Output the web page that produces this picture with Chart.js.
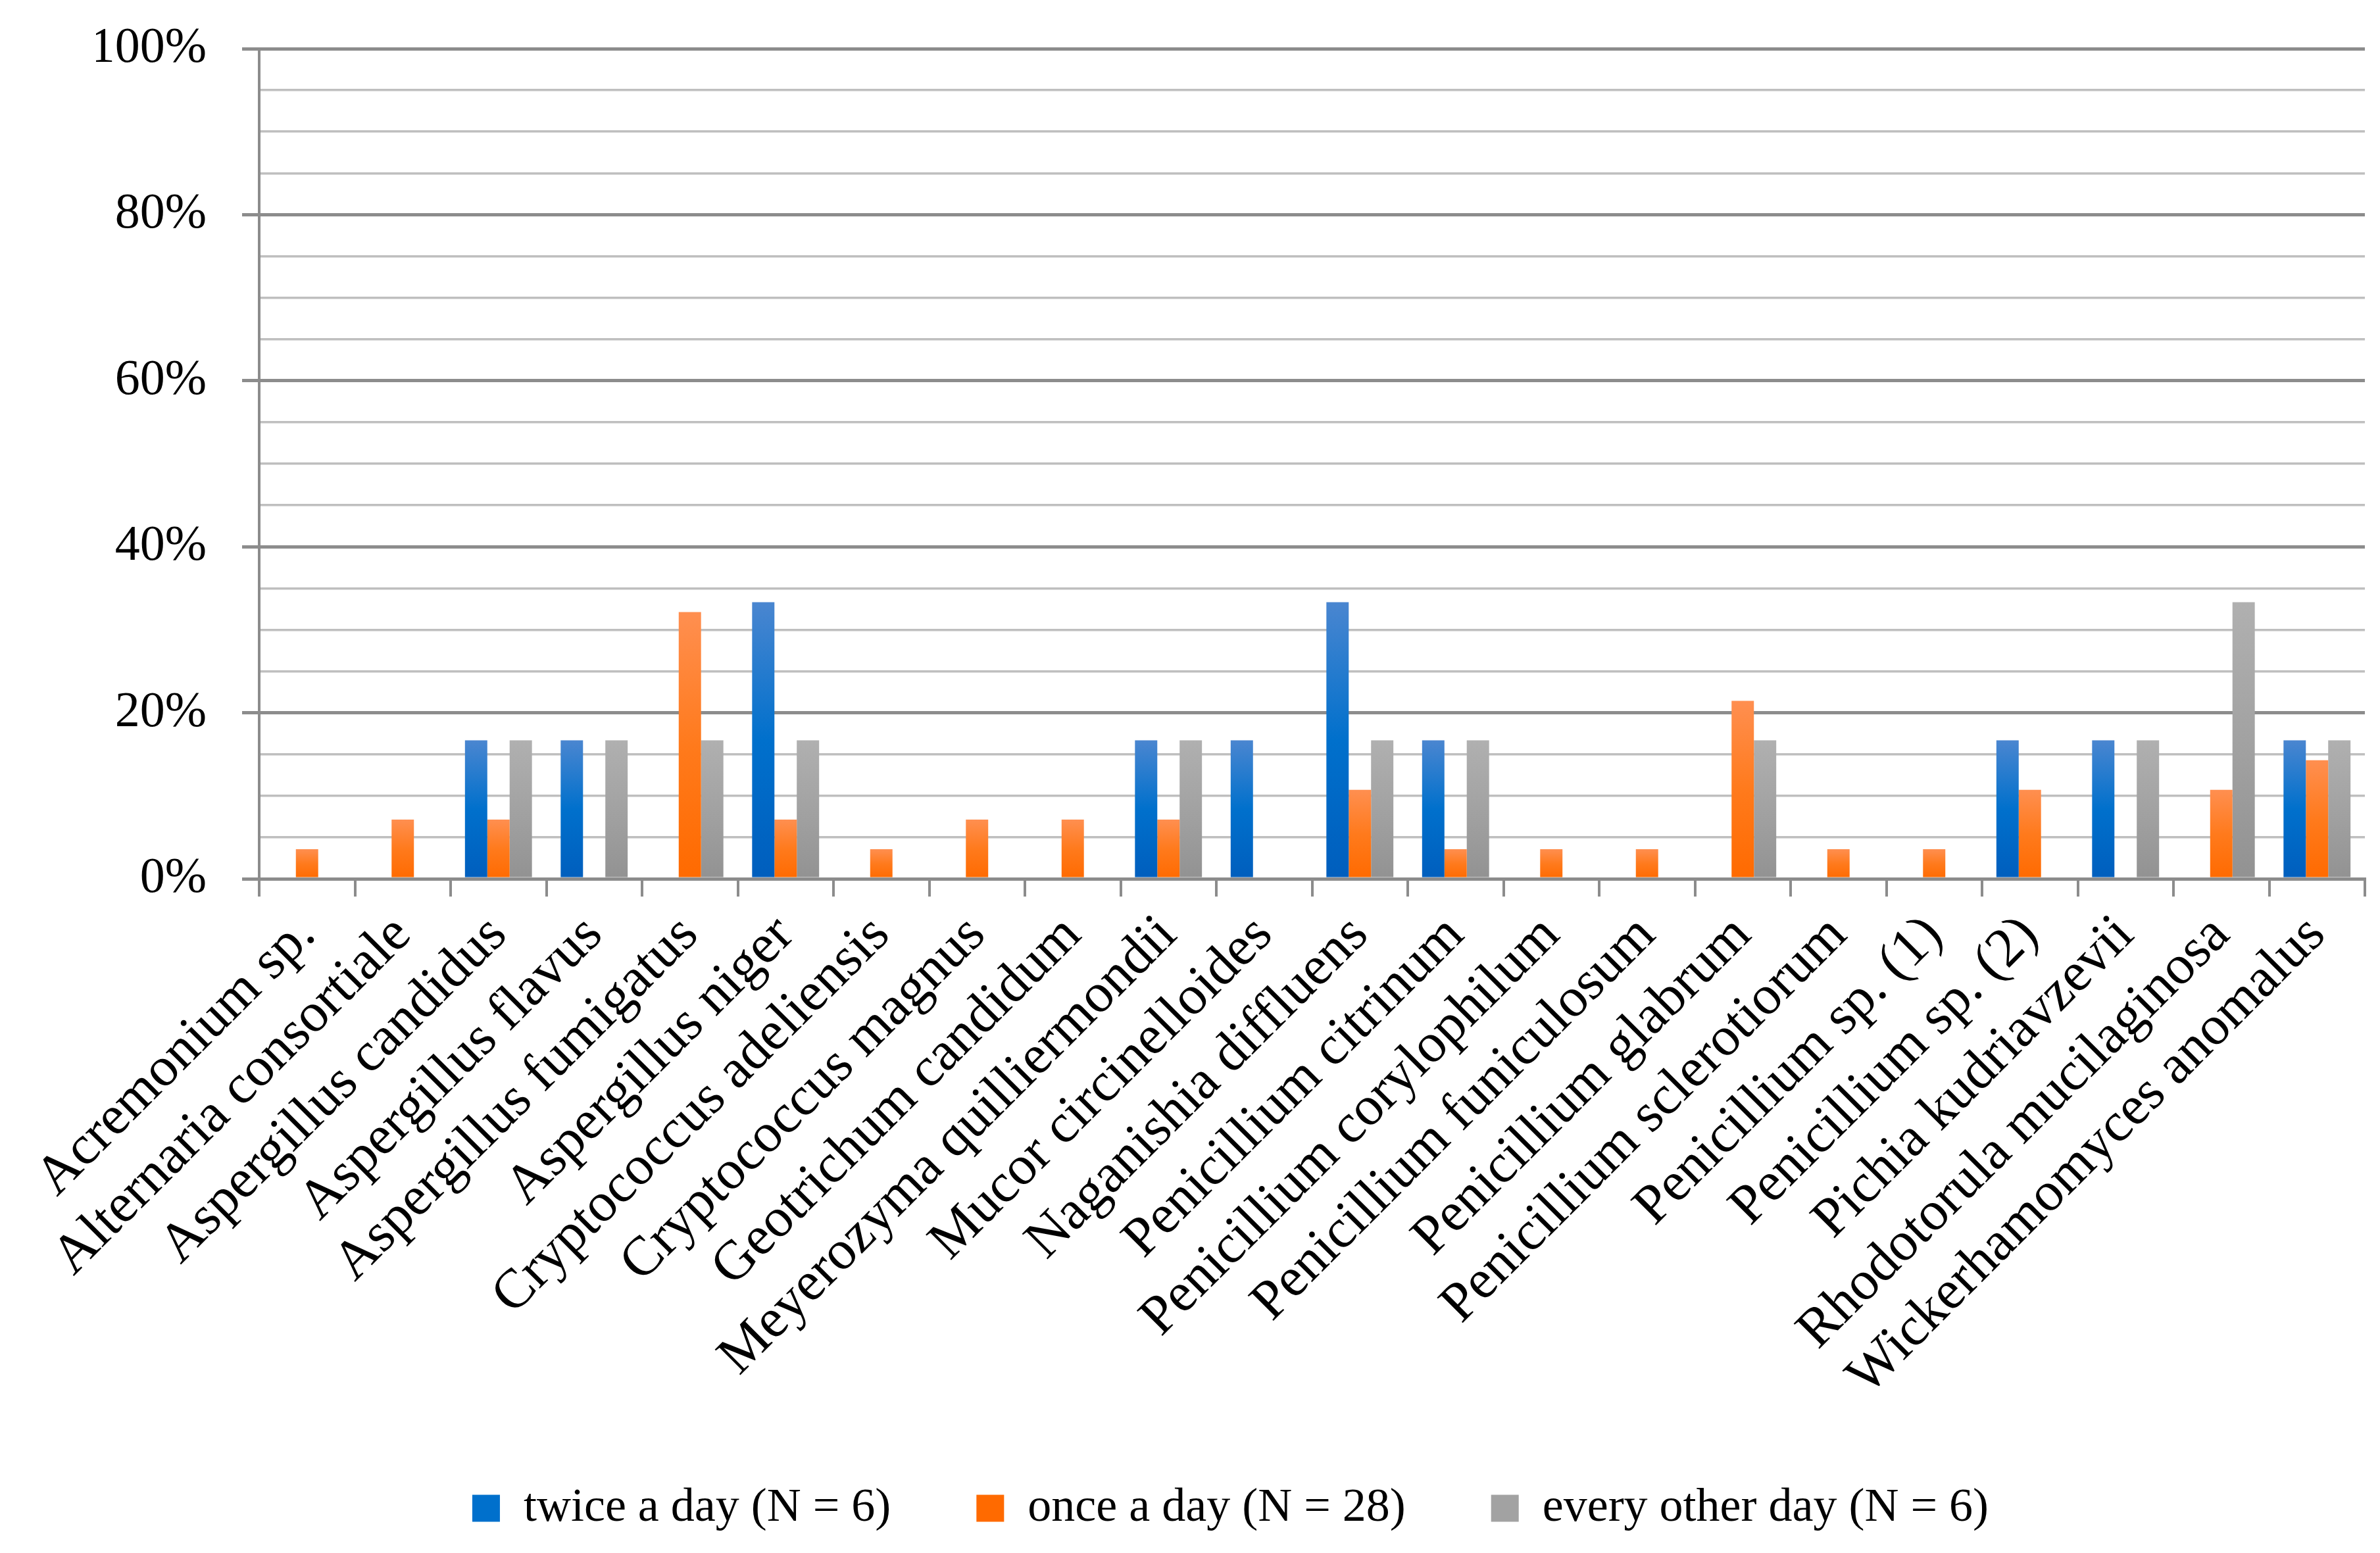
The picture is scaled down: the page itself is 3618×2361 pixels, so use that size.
<!DOCTYPE html>
<html>
<head>
<meta charset="utf-8">
<script src="https://cdn.jsdelivr.net/npm/chart.js@4/dist/chart.umd.min.js"></script>
<style>
  html, body { margin: 0; padding: 0; background: #fff; }
  #wrap { width: 3618px; height: 2361px; position: relative; }
</style>
</head>
<body>
<div id="wrap"><canvas id="fungiChart"></canvas></div>
<script>
// ---- data (percent of samples per frequency group) ----
var species = [
  'Acremonium sp.', 'Alternaria consortiale', 'Aspergillus candidus', 'Aspergillus flavus',
  'Aspergillus fumigatus', 'Aspergillus niger', 'Cryptococcus adeliensis', 'Cryptococcus magnus',
  'Geotrichum candidum', 'Meyerozyma quilliermondii', 'Mucor circinelloides', 'Naganishia diffluens',
  'Penicillium citrinum', 'Penicillium corylophilum', 'Penicillium funiculosum', 'Penicillium glabrum',
  'Penicillium sclerotiorum', 'Penicillium sp. (1)', 'Penicillium sp. (2)', 'Pichia kudriavzevii',
  'Rhodotorula mucilaginosa', 'Wickerhamomyces anomalus'
];
var seriesNames = ['twice a day (N = 6)', 'once a day (N = 28)', 'every other day (N = 6)'];
var twiceADay = [0, 0, 16.67, 16.67, 0, 33.33, 0, 0, 0, 16.67, 16.67, 33.33, 16.67, 0, 0, 0, 0, 0, 16.67, 16.67, 0, 16.67];
var onceADay = [3.57, 7.14, 7.14, 0, 32.14, 7.14, 3.57, 7.14, 7.14, 7.14, 0, 10.71, 3.57, 3.57, 3.57, 21.43, 3.57, 3.57, 10.71, 0, 10.71, 14.29];
var everyOtherDay = [0, 0, 16.67, 16.67, 16.67, 16.67, 0, 0, 0, 16.67, 0, 16.67, 16.67, 0, 0, 16.67, 0, 0, 0, 16.67, 33.33, 16.67];
var yTicks = [0, 20, 40, 60, 80, 100];

var FONT = '"Liberation Serif", "Times New Roman", serif';
var AXIS_GREY = '#8c8c8c';
var MINOR_GREY = '#bfbfbf';

// Excel-like vertical gradient, one per bar
function barFill(top, mid, bot) {
  return function (ctx) {
    var chart = ctx.chart;
    if (ctx.type !== 'data' || !chart.chartArea) return mid;
    var y = chart.scales.y;
    var y0 = y.getPixelForValue(0), y1 = y.getPixelForValue(ctx.raw || 0);
    if (y0 - y1 < 1) return mid;
    var g = chart.ctx.createLinearGradient(0, y1, 0, y0);
    g.addColorStop(0, top);
    g.addColorStop(0.5, mid);
    g.addColorStop(1, bot);
    return g;
  };
}

function isMajor(v) { return yTicks.indexOf(v) !== -1; }

new Chart(document.getElementById('fungiChart'), {
  type: 'bar',
  data: {
    labels: species,
    datasets: [
      { label: seriesNames[0], data: twiceADay, backgroundColor: barFill('#4a86d0', '#0070cc', '#005ebd') },
      { label: seriesNames[1], data: onceADay, backgroundColor: barFill('#ff8f50', '#ff7a1c', '#ff6a00') },
      { label: seriesNames[2], data: everyOtherDay, backgroundColor: barFill('#b0b0b0', '#a2a2a2', '#929292') }
    ]
  },
  options: {
    responsive: true,
    maintainAspectRatio: false,
    devicePixelRatio: 1,
    animation: false,
    datasets: { bar: { categoryPercentage: 0.7, barPercentage: 1.0, borderWidth: 0 } },
    layout: { padding: { top: 74, right: 23, bottom: 22, left: 146 } },
    plugins: {
      tooltip: { enabled: false },
      legend: {
        position: 'bottom',
        labels: {
          color: '#000',
          font: { family: FONT, size: 72 },
          boxWidth: 42, boxHeight: 41,
          padding: 130
        }
      }
    },
    scales: {
      y: {
        min: 0, max: 100,
        afterFit: function (s) { s.width = 248; },
        ticks: {
          stepSize: 5, autoSkip: false, padding: 54, color: '#000',
          // small lineHeight only keeps the top label from pushing the plot down
          font: { family: FONT, size: 76, lineHeight: 0.5 },
          callback: function (v) { return isMajor(v) ? v + '%' : ''; }
        },
        grid: {
          tickLength: 26,
          color: function (c) { return isMajor(c.tick.value) ? AXIS_GREY : MINOR_GREY; },
          tickColor: function (c) { return isMajor(c.tick.value) ? AXIS_GREY : 'rgba(0,0,0,0)'; },
          lineWidth: function (c) { return isMajor(c.tick.value) ? 5 : 3.5; }
        },
        border: { display: true, color: AXIS_GREY, width: 4 }
      },
      x: {
        afterFit: function (s) { s.height = 791; },
        ticks: {
          autoSkip: false, maxRotation: 45, minRotation: 45, padding: 10, color: '#000',
          font: { family: FONT, size: 84 }
        },
        grid: { offset: true, drawOnChartArea: false, tickLength: 27, color: AXIS_GREY, lineWidth: 4 },
        border: { display: true, color: AXIS_GREY, width: 5 }
      }
    }
  }
});
</script>
</body>
</html>
